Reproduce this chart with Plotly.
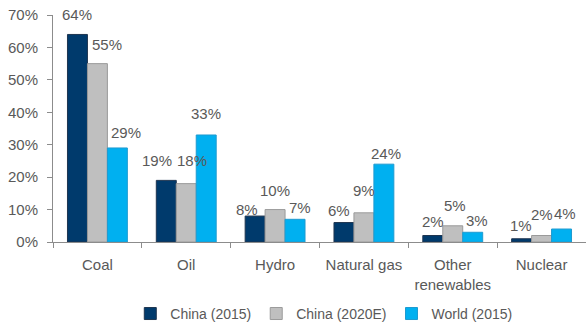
import plotly.graph_objects as go

categories = ["Coal", "Oil", "Hydro", "Natural gas", "Other<br>renewables", "Nuclear"]
series_names = ["China (2015)", "China (2020E)", "World (2015)"]
china_2015 = [64, 19, 8, 6, 2, 1]
china_2020e = [55, 18, 10, 9, 5, 2]
world_2015 = [29, 33, 7, 24, 3, 4]
y_ticks = [0, 10, 20, 30, 40, 50, 60, 70]

# label nudges (px) so neighbouring value labels stay readable
label_dx = [
    [0, -9, -8, -5, 0, -1],
    [10, 6, 0, 0, 2, 0],
    [9, 0, 5, 2, 4, 3],
]
label_dy = [
    [20, 20, 7, 12, 14, 13],
    [19, 23, 19, 22, 20, 21],
    [15, 21, 12, 11, 12, 16],
]

colors = ["#003A6C", "#BFBFBF", "#00B0F0"]
outlines = ["#1F3550", "#9A9A9A", "#1E9AD0"]
font_family = "Liberation Sans Narrow, Arial Narrow, Liberation Sans, Arial, sans-serif"
text_color = "#595959"
fs = 15
bar_px = 20  # bar width in pixels at this size, used to offset labels per series

all_series = [china_2015, china_2020e, world_2015]

fig = go.Figure()
for name, vals, c, oc in zip(series_names, all_series, colors, outlines):
    fig.add_trace(go.Bar(
        x=categories, y=vals, name=name,
        marker=dict(color=c, line=dict(color=oc, width=1)),
        cliponaxis=False,
    ))

annotations = []
for si, vals in enumerate(all_series):
    offset = (si - 1) * bar_px
    for ci, v in enumerate(vals):
        annotations.append(dict(
            x=categories[ci], y=v, xref="x", yref="y",
            text=f"{v}%", showarrow=False,
            xanchor="center", yanchor="middle",
            xshift=offset + label_dx[si][ci], yshift=label_dy[si][ci],
            font=dict(size=fs, color=text_color, family=font_family),
        ))

fig.update_layout(
    width=586, height=327,
    margin=dict(l=53, r=0, t=15, b=85),
    paper_bgcolor="white", plot_bgcolor="white",
    barmode="group", bargap=0.326, bargroupgap=0,
    font=dict(family=font_family, size=fs, color=text_color),
    showlegend=True,
    legend=dict(orientation="h", x=0.145, xanchor="left",
                yref="container", y=0.04, yanchor="middle",
                font=dict(size=14, color=text_color), itemwidth=30,
                traceorder="normal"),
    annotations=annotations,
    xaxis=dict(showline=True, linecolor="#8C8C8C", linewidth=1, ticks="outside",
               tickson="boundaries", ticklen=5, tickcolor="#8C8C8C", showgrid=False,
               tickangle=0, automargin=False, ticklabelstandoff=9,
               tickfont=dict(size=fs, color=text_color)),
    yaxis=dict(range=[0, 70], tickvals=y_ticks, ticktext=[f"{t}%" for t in y_ticks],
               showline=True, linecolor="#8C8C8C", linewidth=1, ticks="outside",
               ticklen=5, tickcolor="#8C8C8C", showgrid=False, zeroline=False,
               automargin=False, ticklabelstandoff=6,
               tickfont=dict(size=fs, color=text_color)),
)

fig.write_html("out.html")
